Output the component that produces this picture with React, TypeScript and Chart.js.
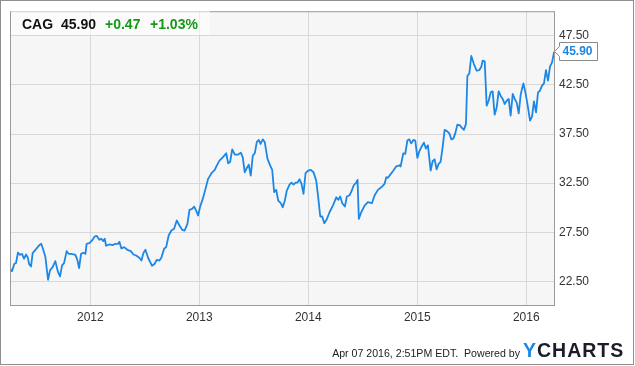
import React, { useEffect, useRef } from "react";
import { Chart, registerables } from "chart.js";

Chart.register(...registerables);

// ---- data (decimal years, closing prices) ----
const dates = [
  2011.263, 2011.281, 2011.303, 2011.318, 2011.336, 2011.355, 2011.373, 2011.392, 2011.410, 2011.425,
  2011.440, 2011.456, 2011.471, 2011.502, 2011.532, 2011.550, 2011.562, 2011.587, 2011.612, 2011.630,
  2011.654, 2011.679, 2011.704, 2011.722, 2011.741, 2011.759, 2011.783, 2011.801, 2011.826, 2011.863,
  2011.881, 2011.897, 2011.915, 2011.936, 2011.955, 2011.966, 2011.991, 2012.016, 2012.040, 2012.058,
  2012.083, 2012.101, 2012.120, 2012.132, 2012.145, 2012.175, 2012.205, 2012.230, 2012.255, 2012.267,
  2012.285, 2012.310, 2012.340, 2012.371, 2012.395, 2012.420, 2012.450,
  2012.469, 2012.487, 2012.506, 2012.530, 2012.567, 2012.591, 2012.609, 2012.634, 2012.652, 2012.677,
  2012.696, 2012.719, 2012.744, 2012.769, 2012.793, 2012.818, 2012.843, 2012.866, 2012.891, 2012.910,
  2012.934, 2012.953, 2012.971, 2012.989, 2013.008, 2013.032, 2013.057, 2013.081, 2013.112, 2013.142,
  2013.160, 2013.185, 2013.215, 2013.247, 2013.265, 2013.283, 2013.302, 2013.326, 2013.357, 2013.381,
  2013.399, 2013.417, 2013.436, 2013.454, 2013.472, 2013.491, 2013.509, 2013.528, 2013.546, 2013.562,
  2013.583, 2013.601, 2013.626, 2013.651, 2013.669, 2013.687, 2013.706, 2013.724, 2013.748, 2013.766,
  2013.785, 2013.803, 2013.828, 2013.846, 2013.865, 2013.883, 2013.901, 2013.920, 2013.938, 2013.956,
  2013.975, 2013.999, 2014.023, 2014.048, 2014.073, 2014.091, 2014.110, 2014.128, 2014.147, 2014.170,
  2014.195, 2014.226, 2014.257, 2014.275, 2014.293, 2014.312, 2014.336, 2014.354, 2014.379, 2014.397,
  2014.416, 2014.440, 2014.452, 2014.464, 2014.486, 2014.517, 2014.547, 2014.584, 2014.608, 2014.639,
  2014.670, 2014.700, 2014.716, 2014.728, 2014.746, 2014.776, 2014.808, 2014.838, 2014.847, 2014.872,
  2014.890, 2014.909, 2014.927, 2014.945, 2014.964, 2014.982, 2015.001, 2015.019, 2015.037, 2015.061,
  2015.079, 2015.098, 2015.123, 2015.141, 2015.159, 2015.178, 2015.196, 2015.214, 2015.233, 2015.251,
  2015.276, 2015.294, 2015.313, 2015.331, 2015.349, 2015.368, 2015.392, 2015.410, 2015.428, 2015.447,
  2015.460, 2015.478, 2015.496, 2015.520, 2015.545, 2015.570, 2015.588, 2015.600, 2015.619, 2015.637,
  2015.655, 2015.674, 2015.692, 2015.710, 2015.729, 2015.747, 2015.765, 2015.784, 2015.802, 2015.821,
  2015.839, 2015.857, 2015.876, 2015.894, 2015.912, 2015.931, 2015.949, 2015.961, 2015.974, 2015.992,
  2016.011, 2016.035, 2016.053, 2016.071, 2016.090, 2016.108, 2016.126, 2016.145, 2016.163, 2016.181,
  2016.200, 2016.218, 2016.237, 2016.255, 2016.264,
];

const prices = [
  23.79, 23.55, 24.30, 24.36, 25.42, 25.21, 25.31, 24.81, 25.24, 24.97,
  24.23, 24.02, 25.38, 25.78, 26.19, 26.33, 25.92, 25.04, 22.67, 23.62,
  23.95, 24.56, 23.44, 23.01, 24.13, 24.36, 25.58, 25.31, 25.31, 25.21,
  24.70, 23.85, 25.31, 25.42, 25.31, 26.33, 26.39, 26.67, 27.07, 27.14,
  26.74, 26.84, 26.60, 26.84, 26.13, 26.26, 26.19, 26.33, 26.33, 26.53,
  25.85, 25.99, 25.72, 25.58, 25.24, 25.14, 24.91,
  24.63, 25.38, 25.72, 24.91, 24.09, 24.30, 24.70, 24.63, 24.91, 25.82,
  25.99, 27.17, 27.68, 27.86, 28.70, 28.19, 27.75, 27.68, 28.36, 29.79,
  29.89, 30.12, 29.71, 29.21, 30.12, 30.90, 31.92, 32.94, 33.51, 33.85,
  34.29, 34.80, 35.13, 35.54, 34.52, 34.66, 35.94, 35.41, 35.41, 35.61,
  35.13, 33.61, 34.05, 34.39, 33.27, 35.30, 35.54, 36.70, 36.90, 36.49,
  36.96, 36.66, 34.97, 34.29, 33.85, 31.58, 31.82, 30.73, 30.46, 30.05,
  30.73, 31.75, 32.36, 32.56, 32.36, 32.56, 32.56, 32.90, 32.43, 31.41,
  33.51, 33.78, 33.85, 33.61, 32.76, 31.07, 29.11, 29.11, 28.42, 28.83,
  29.54, 30.22, 31.07, 30.80, 31.14, 30.46, 30.12, 31.14, 31.27, 31.68,
  32.26, 32.56, 32.84, 28.87, 29.54, 30.22, 30.56, 30.46, 31.24, 31.82,
  32.08, 32.43, 33.10, 33.04, 33.27, 33.71, 34.22, 34.32, 34.19, 35.54,
  35.48, 36.83, 36.96, 36.55, 36.90, 36.83, 35.07, 35.74, 36.15, 36.63,
  36.02, 36.35, 33.78, 34.73, 34.93, 33.91, 34.46, 34.66, 36.15, 37.92,
  37.77, 37.57, 36.96, 37.03, 37.57, 38.46, 38.38, 38.12, 37.92, 38.53,
  43.41, 43.67, 45.45, 44.62, 43.94, 44.01, 44.35, 44.96, 44.89, 40.39,
  40.89, 41.74, 41.84, 39.47, 40.21, 41.84, 41.40, 41.07, 40.56, 40.89,
  41.07, 39.37, 41.58, 41.07, 40.72, 39.60, 41.50, 42.08, 42.65, 41.74,
  40.56, 38.86, 39.27, 40.82, 39.71, 41.74, 41.91, 42.42, 42.65, 44.01,
  42.93, 44.35, 44.79, 45.80, 45.90,
];

const yTicks = [22.5, 27.5, 32.5, 37.5, 42.5, 47.5];
const xTicks = [2012, 2013, 2014, 2015, 2016];
const xRange = [2011.263, 2016.264];
const yRange = [20, 50];

const ticker = "CAG";
const lastPrice = "45.90";
const change = "+0.47";
const changePct = "+1.03%";
const stamp = "Apr 07 2016, 2:51PM EDT.";
const powered = "Powered by";

const BLUE = "#1c87e5";
const GREEN = "#149a14";
const GRID = "#d8d8d8";
const FONT = "'Liberation Sans', Arial, Helvetica, sans-serif";

export default function App() {
  const ref = useRef<HTMLCanvasElement | null>(null);

  useEffect(() => {
    const canvas = ref.current;
    if (!canvas) return;
    const points = dates.map((d, i) => ({ x: d, y: prices[i] }));

    const deco = {
      id: "deco",
      beforeDraw(chart: any) {
        const { ctx, chartArea: a } = chart;
        ctx.save();
        ctx.fillStyle = "#ffffff";
        ctx.fillRect(0, 0, chart.width, chart.height);
        ctx.fillStyle = "#f6f6f6";
        ctx.fillRect(a.left, a.top, a.right - a.left, a.bottom - a.top);
        ctx.restore();
      },
      afterDraw(chart: any) {
        const { ctx, chartArea: a } = chart;
        ctx.save();
        ctx.strokeStyle = "#999999";
        ctx.lineWidth = 1;
        ctx.strokeRect(a.left + 0.5, a.top + 0.5, a.right - a.left - 1, a.bottom - a.top - 1);

        // last price tag
        const y = Math.round(chart.scales.y.getPixelForValue(prices[prices.length - 1])) + 0.5;
        const x0 = a.right - 0.5;
        const bx = a.right + 4.5;
        const bw = 38;
        ctx.beginPath();
        ctx.moveTo(x0, y);
        ctx.lineTo(bx, y - 5);
        ctx.lineTo(bx, y - 9);
        ctx.lineTo(bx + bw, y - 9);
        ctx.lineTo(bx + bw, y + 9);
        ctx.lineTo(bx, y + 9);
        ctx.lineTo(bx, y + 5);
        ctx.closePath();
        ctx.fillStyle = "#ffffff";
        ctx.fill();
        ctx.strokeStyle = "#8a8a8a";
        ctx.stroke();
        ctx.fillStyle = BLUE;
        ctx.font = `bold 12px ${FONT}`;
        ctx.textBaseline = "middle";
        ctx.textAlign = "left";
        ctx.fillText(lastPrice, bx + 3, y + 0.5);
        ctx.restore();
      },
    };

    const chart = new Chart(canvas, {
      type: "line",
      data: {
        datasets: [
          {
            data: points,
            borderColor: BLUE,
            borderWidth: 1.8,
            pointRadius: 0,
            tension: 0,
            fill: false,
            borderJoinStyle: "round",
          } as any,
        ],
      },
      options: {
        animation: false,
        responsive: false,
        devicePixelRatio: 1,
        events: [],
        layout: { padding: { left: 10, top: 10, right: 0, bottom: 0 } },
        plugins: { legend: { display: false }, tooltip: { enabled: false } },
        scales: {
          x: {
            type: "linear",
            min: xRange[0],
            max: xRange[1],
            afterBuildTicks: (s: any) => {
              s.ticks = xTicks.map((v) => ({ value: v }));
            },
            afterFit: (s: any) => {
              s.height = 60;
            },
            grid: { color: GRID, lineWidth: 1, drawTicks: false },
            border: { display: false },
            ticks: {
              padding: 4,
              color: "#333333",
              font: { family: FONT, size: 12 },
              maxRotation: 0,
              autoSkip: false,
              callback: (v: any) => String(v),
            },
          },
          y: {
            type: "linear",
            position: "right",
            min: yRange[0],
            max: yRange[1],
            afterBuildTicks: (s: any) => {
              s.ticks = yTicks.map((v) => ({ value: v }));
            },
            afterFit: (s: any) => {
              s.width = 80;
            },
            grid: { color: GRID, lineWidth: 1, drawTicks: false },
            border: { display: false },
            ticks: {
              padding: 4,
              color: "#333333",
              font: { family: FONT, size: 12 },
              autoSkip: false,
              callback: (v: any) => Number(v).toFixed(2),
            },
          },
        },
      } as any,
      plugins: [deco],
    });
    return () => chart.destroy();
  }, []);

  const headerSpan = (left: number, color: string): React.CSSProperties => ({
    position: "absolute",
    left,
    top: 16,
    lineHeight: "16px",
    fontFamily: FONT,
    fontWeight: "bold",
    fontSize: 14,
    color,
    whiteSpace: "nowrap",
  });

  return (
    <div style={{ position: "absolute", left: 0, top: 0, width: 635, height: 366, overflow: "hidden", background: "#fff" }}>
      <canvas ref={ref} width={635} height={366} style={{ position: "absolute", left: 0, top: 0, width: 635, height: 366 }} />
      <div
        style={{
          position: "absolute",
          left: 11,
          top: 11,
          width: 199,
          height: 24,
          background: "rgba(255,255,255,0.55)",
        }}
      />
      <span style={headerSpan(22, "#111")}>{ticker}</span>
      <span style={headerSpan(61, "#111")}>{lastPrice}</span>
      <span style={headerSpan(105, GREEN)}>{change}</span>
      <span style={headerSpan(150, GREEN)}>{changePct}</span>
      <div
        style={{
          position: "absolute",
          left: 0,
          width: 520,
          top: 346,
          lineHeight: "14px",
          fontSize: 10.6,
          fontFamily: FONT,
          color: "#222",
          textAlign: "right",
          whiteSpace: "nowrap",
        }}
      >
        {stamp}&nbsp; {powered}
      </div>
      <div
        style={{
          position: "absolute",
          left: 523,
          top: 340,
          lineHeight: "20px",
          fontSize: 19.5,
          fontWeight: "bold",
          fontFamily: FONT,
          letterSpacing: 1,
          whiteSpace: "nowrap",
          color: "#1b1b2a",
        }}
      >
        <span style={{ color: BLUE }}>Y</span>CHARTS
      </div>
      <div
        style={{
          position: "absolute",
          left: 0,
          top: 0,
          width: 632,
          height: 363,
          border: "1px solid #8f8f8f",
          pointerEvents: "none",
        }}
      />
    </div>
  );
}
